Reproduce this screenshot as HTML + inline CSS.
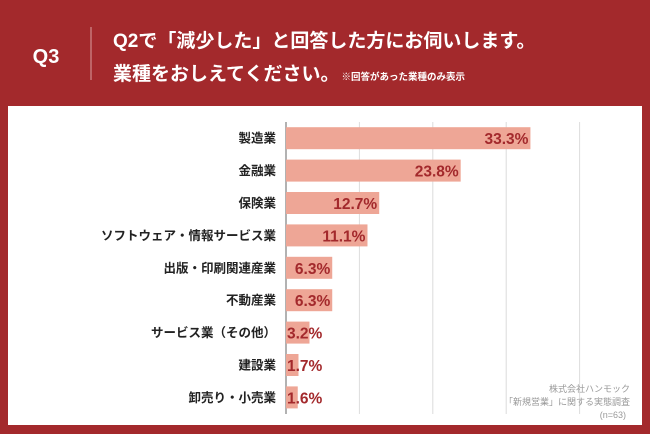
<!DOCTYPE html>
<html><head><meta charset="utf-8"><style>
body{margin:0;width:650px;height:434px;background:#a3292c;overflow:hidden;font-family:"Liberation Sans","Noto Sans CJK JP",sans-serif}
</style></head><body>
<svg width="650" height="434" style="position:absolute;left:0;top:0">
<rect x="0" y="0" width="650" height="434" fill="#a3292c"/>
<text x="46" y="63" fill="#fff" font-size="20" font-weight="bold" text-anchor="middle">Q3</text>
<line x1="91" y1="27" x2="91" y2="80" stroke="#d9a0a0" stroke-width="1"/>
<text x="113" y="47" fill="#fff" font-size="19" font-weight="bold">Q2で「減少した」と回答した方にお伺いします。</text>
<text x="113" y="80" fill="#fff" font-size="19" font-weight="bold">業種をおしえてください。<tspan font-size="9.5" dx="2">※回答があった業種のみ表示</tspan></text>
<rect x="8" y="106" width="634" height="319" fill="#fff"/>
<g id="grid"></g><g id="bars"></g>
<text x="630" y="392" fill="#999" font-size="9" text-anchor="end">株式会社ハンモック</text>
<text x="630" y="405" fill="#999" font-size="9" text-anchor="end">「新規営業」に関する実態調査</text>
<text x="626" y="418" fill="#999" font-size="9" text-anchor="end">(n=63)</text>
</svg>
<script>
const categories=["製造業","金融業","保険業","ソフトウェア・情報サービス業","出版・印刷関連産業","不動産業","サービス業（その他）","建設業","卸売り・小売業"];
const values=[33.3,23.8,12.7,11.1,6.3,6.3,3.2,1.7,1.6];
const valueLabels=["33.3%","23.8%","12.7%","11.1%","6.3%","6.3%","3.2%","1.7%","1.6%"];
const gridTicks=[10,20,30,40,50];
const NS="http://www.w3.org/2000/svg";
const x0=286, pxPer=7.34, yTop=122, band=32.4;
const xs=v=>x0+v*pxPer;
const yc=i=>yTop+band*(i+0.5);
const g=document.getElementById('grid'), b=document.getElementById('bars');
function mk(tag,attrs,parent){const e=document.createElementNS(NS,tag);for(const k in attrs)e.setAttribute(k,attrs[k]);parent.appendChild(e);return e;}
gridTicks.forEach(t=>{
  const l=mk('line',{x1:xs(t),x2:xs(t),y1:yTop,y2:414,stroke:'#dcdcdc','stroke-width':1},g);
  
  
});
const ax=mk('line',{x1:x0,x2:x0,y1:yTop,y2:414,stroke:'#666','stroke-width':1},g);


values.forEach((v,i)=>{
  const r=mk('rect',{x:x0,y:yc(i)-11,width:xs(v)-x0,height:22,fill:'#eea696'},b);
  
  
  const c=mk('text',{x:276,y:yc(i)+4.5,'text-anchor':'end','font-size':12.5,'font-weight':'bold',fill:'#222'},b);
  c.textContent=categories[i];
  
  
  const w=xs(v)-x0;
  const small=w<40;
  const t=mk('text',{x:small?x0+1:xs(v)-2,y:yc(i)+6,'text-anchor':small?'start':'end','font-size':15.5,'font-weight':'bold',fill:'#a3292c'},b);
  t.textContent=valueLabels[i];
  
  
});
</script>
</body></html>
